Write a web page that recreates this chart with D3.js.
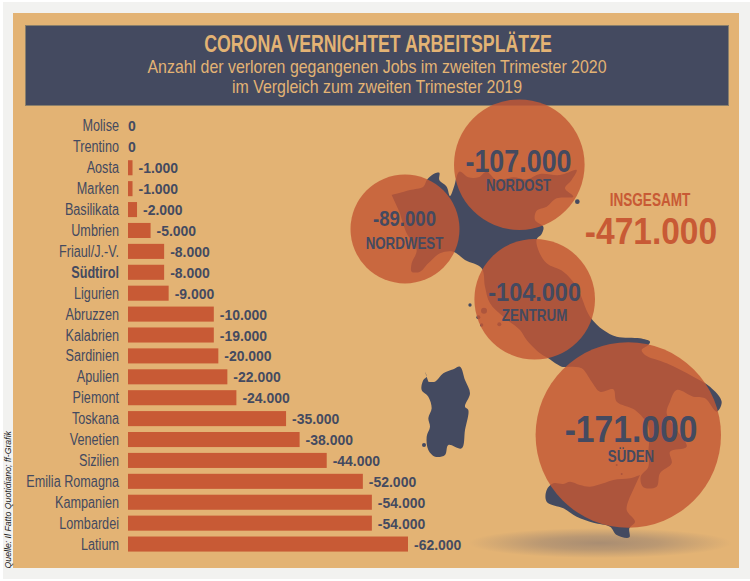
<!DOCTYPE html>
<html>
<head>
<meta charset="utf-8">
<script src="https://cdn.jsdelivr.net/npm/d3@7"></script>
<style>
html, body { margin: 0; padding: 0; background: #fff; }
svg { display: block; }
text { font-family: "Liberation Sans", sans-serif; }
</style>
</head>
<body>
<svg id="chart" width="750" height="581"></svg>
<script>
// bars
var regions = ["Molise","Trentino","Aosta","Marken","Basilikata","Umbrien","Friaul/J.-V.","Südtirol","Ligurien","Abruzzen","Kalabrien","Sardinien","Apulien","Piemont","Toskana","Venetien","Sizilien","Emilia Romagna","Kampanien","Lombardei","Latium"];
// Abruzzen is drawn as long as Kalabrien in the original, but labelled -10.000
var jobsLost = [0,0,1000,1000,2000,5000,8000,8000,9000,19000,19000,20000,22000,24000,35000,38000,44000,52000,54000,54000,62000];
var barLabels = ["0","0","-1.000","-1.000","-2.000","-5.000","-8.000","-8.000","-9.000","-10.000","-19.000","-20.000","-22.000","-24.000","-35.000","-38.000","-44.000","-52.000","-54.000","-54.000","-62.000"];

// bubbles
var areas = ["NORDOST","NORDWEST","ZENTRUM","SÜDEN"];
var areaValues = [107000,89000,104000,171000];
var areaLabels = ["-107.000","-89.000","-104.000","-171.000"];

var titleText = "CORONA VERNICHTET ARBEITSPLÄTZE";
var subtitleLines = ["Anzahl der verloren gegangenen Jobs im zweiten Trimester 2020","im Vergleich zum zweiten Trimester 2019"];
var totalTitle = "INSGESAMT";
var totalValue = "-471.000";
var sourceText = "Quelle: Il Fatto Quotidiano; ff-Grafik";

// hand traced outlines of the map, measured on two crops of the picture
var northOutline = [[155,315],[175,310],[210,300],[250,290],[262,268],[285,250],[298,248],[298,270],[320,290],[330,318],[342,290],[358,245],[385,262],[415,262],[440,245],[470,270],[520,262],[560,268],[600,252],[660,255],[710,240],[695,270],[675,295],[700,320],[650,325],[620,350],[590,362],[585,390],[610,410],[605,432],[590,448],[595,480],[620,520],[670,545],[710,590],[750,680],[790,720],[830,740],[900,745],[930,755]];
var southOutline = [[745,45],[725,60],[735,75],[800,100],[880,140],[930,170],[965,215],[950,245],[915,205],[880,200],[830,180],[810,215],[800,250],[830,300],[860,350],[810,365],[815,400],[780,430],[770,470],[730,472],[722,440],[745,410],[745,370],[745,290],[705,240],[650,215],[640,178],[600,185],[575,155],[545,115],[510,110],[485,110]];
var westOutline = [[625,805],[600,790],[560,750],[540,720],[490,680],[450,640],[435,590],[425,535],[375,510],[340,485],[300,490],[265,520],[240,545],[215,545],[215,520],[230,480],[200,430],[180,370]];
var sicilyOutline = [[720,435],[690,445],[640,450],[610,460],[570,470],[540,465],[510,455],[490,462],[460,460],[440,480],[440,515],[490,535],[530,560],[580,578],[630,590],[650,615],[688,622],[688,595],[705,575],[680,540],[690,500]];
var sardiniaOutline = [[75,125],[80,140],[70,150],[65,180],[85,200],[95,235],[85,265],[90,290],[80,320],[85,360],[105,380],[135,375],[145,345],[185,355],[195,300],[205,240],[195,230],[210,190],[195,150],[180,110],[160,118],[130,130],[105,155],[85,155]];
var isletsA = [[712,335,7],[390,645,5],[432,662,9],[415,682,6],[425,705,5],[478,703,6]];
var isletsB = [[650,405,3],[665,432,3],[72,345,6]];

var navy = "#444a60";
var sand = "#e3b374";
var rust = "#c85a35";

var svg = d3.select("#chart");

function fromCropA(p) { return [340 + p[0]/3, 90 + p[1]/3]; }
function fromCropB(p) { return [400 + p[0]/3, 330 + p[1]/3]; }

// no condensed face is installed, so squeeze each text to the share of its natural width
function squeeze(sel, factor) {
	sel.each(function() {
		d3.select(this).attr("lengthAdjust","spacingAndGlyphs")
			.attr("textLength",this.getComputedTextLength()*factor);
	});
	return sel;
}

var defs = svg.append("defs");
var shade = defs.append("radialGradient").attr("id","shade");
shade.append("stop").attr("offset","0%").attr("stop-color","#a98d72").attr("stop-opacity",1);
shade.append("stop").attr("offset","45%").attr("stop-color","#a98d72").attr("stop-opacity",0.7);
shade.append("stop").attr("offset","100%").attr("stop-color","#a98d72").attr("stop-opacity",0);

svg.append("rect").attr("x",3).attr("y",2).attr("width",747).attr("height",577).attr("fill","#f2f2f0");
svg.append("rect").attr("x",13).attr("y",13).attr("width",726).attr("height",555).attr("fill",sand);

// header
svg.append("rect").attr("x",25.5).attr("y",25.5).attr("width",703).attr("height",80)
	.attr("fill",navy).attr("stroke","#8a7f6b").attr("stroke-width",1);
svg.append("text").text(titleText).attr("x",378).attr("y",52)
	.attr("text-anchor","middle").attr("fill",sand).attr("font-size",23.5).attr("font-weight","bold")
	.call(squeeze,0.755);
svg.selectAll(".sub").data(subtitleLines).enter().append("text").attr("class","sub")
	.text(function(d){ return d; })
	.attr("x",377).attr("y",function(d,i){ return 72.5 + i*20; })
	.attr("text-anchor","middle").attr("fill",sand).attr("font-size",18.5)
	.call(squeeze,0.86);

// bars
var x = d3.scaleLinear().domain([0,62000]).range([128,408]);
var y = d3.scaleBand().domain(regions).range([115.5,554.5]).paddingInner(0.28).paddingOuter(0.14);

svg.selectAll(".bar").data(regions).enter().append("rect").attr("class","bar")
	.attr("x",x(0))
	.attr("y",function(d){ return y(d); })
	.attr("width",function(d,i){ return x(jobsLost[i]) - x(0); })
	.attr("height",y.bandwidth())
	.attr("fill",rust);

svg.selectAll(".region").data(regions).enter().append("text").attr("class","region")
	.text(function(d){ return d; })
	.attr("x",119)
	.attr("y",function(d){ return y(d) + y.bandwidth()/2 + 5.5; })
	.attr("text-anchor","end").attr("fill",navy).attr("font-size",16)
	.attr("font-weight",function(d){ return d == "Südtirol" ? "bold" : "normal"; })
	.call(squeeze,0.79);

svg.selectAll(".val").data(barLabels).enter().append("text").attr("class","val")
	.text(function(d){ return d; })
	.attr("x",function(d,i){ return x(jobsLost[i]) + (jobsLost[i] == 0 ? 0 : 6); })
	.attr("y",function(d,i){ return y(regions[i]) + y.bandwidth()/2 + 5.5; })
	.attr("fill",navy).attr("font-size",15.5).attr("font-weight","bold")
	.call(squeeze,0.9);

// source, rotated along the left edge
svg.append("text").text(sourceText).attr("transform","translate(11,568.5) rotate(-90)")
	.attr("fill","#222").attr("font-size",9.3).attr("font-style","italic")
	.call(squeeze,0.94);

// map
var line = d3.line().curve(d3.curveCatmullRom.alpha(0.5));
var mainland = northOutline.map(fromCropA).concat(southOutline.map(fromCropB)).concat(westOutline.map(fromCropA));

svg.append("ellipse").attr("cx",600).attr("cy",543).attr("rx",132).attr("ry",15).attr("fill","url(#shade)");

svg.append("path").attr("d",line(mainland)+"Z").attr("fill",navy);
svg.append("path").attr("d",line(sicilyOutline.map(fromCropB))+"Z").attr("fill",navy);
svg.append("path").attr("d",line(sardiniaOutline.map(fromCropB))+"Z").attr("fill",navy);
svg.selectAll(".isleA").data(isletsA).enter().append("circle").attr("class","isleA")
	.attr("cx",function(d){ return fromCropA(d)[0]; }).attr("cy",function(d){ return fromCropA(d)[1]; })
	.attr("r",function(d){ return d[2]/3; }).attr("fill",navy);
svg.selectAll(".isleB").data(isletsB).enter().append("circle").attr("class","isleB")
	.attr("cx",function(d){ return fromCropB(d)[0]; }).attr("cy",function(d){ return fromCropB(d)[1]; })
	.attr("r",function(d){ return d[2]/3; }).attr("fill",navy);

// bubbles
var r = d3.scaleLinear().domain([89000,104000,107000,171000]).range([54.5,60.3,65.3,92.7]);
var bubbleX = d3.scaleOrdinal().domain(areas).range([519.3,405,534.7,628.3]);
var bubbleY = d3.scaleOrdinal().domain(areas).range([164.7,229,299.3,435]);

svg.selectAll(".bubble").data(areas).enter().append("circle").attr("class","bubble")
	.attr("cx",function(d){ return bubbleX(d); })
	.attr("cy",function(d){ return bubbleY(d); })
	.attr("r",function(d,i){ return r(areaValues[i]); })
	.attr("fill","#c35834").attr("fill-opacity",0.824);

var numberSize = d3.scaleOrdinal().domain(areas).range([31,21.5,26.5,37]);
var numberWidth = d3.scaleOrdinal().domain(areas).range([106,63,92.7,132.7]);
var nameWidth = d3.scaleOrdinal().domain(areas).range([65,77.7,65.7,46.3]);
var textX = d3.scaleOrdinal().domain(areas).range([518.5,404.5,534.6,631]);
var numberY = d3.scaleOrdinal().domain(areas).range([171.7,226,301,441.7]);
var nameY = d3.scaleOrdinal().domain(areas).range([190.7,249,320.7,461.7]);

svg.selectAll(".num").data(areas).enter().append("text").attr("class","num")
	.text(function(d,i){ return areaLabels[i]; })
	.attr("x",function(d){ return textX(d); })
	.attr("y",function(d){ return numberY(d); })
	.attr("text-anchor","middle").attr("fill",navy).attr("font-weight","bold")
	.attr("font-size",function(d){ return numberSize(d); })
	.attr("lengthAdjust","spacingAndGlyphs")
	.attr("textLength",function(d){ return numberWidth(d); });
svg.selectAll(".name").data(areas).enter().append("text").attr("class","name")
	.text(function(d){ return d; })
	.attr("x",function(d){ return textX(d); })
	.attr("y",function(d){ return nameY(d); })
	.attr("text-anchor","middle").attr("fill",navy).attr("font-weight","bold")
	.attr("font-size",17)
	.attr("lengthAdjust","spacingAndGlyphs")
	.attr("textLength",function(d){ return nameWidth(d); });

// total
svg.append("text").text(totalTitle).attr("x",650).attr("y",206)
	.attr("text-anchor","middle").attr("fill",rust).attr("font-size",17.5).attr("font-weight","bold")
	.attr("lengthAdjust","spacingAndGlyphs").attr("textLength",80.7);
svg.append("text").text(totalValue).attr("x",651).attr("y",244)
	.attr("text-anchor","middle").attr("fill",rust).attr("font-size",36.5).attr("font-weight","bold")
	.attr("lengthAdjust","spacingAndGlyphs").attr("textLength",132.3);
</script>
</body>
</html>
